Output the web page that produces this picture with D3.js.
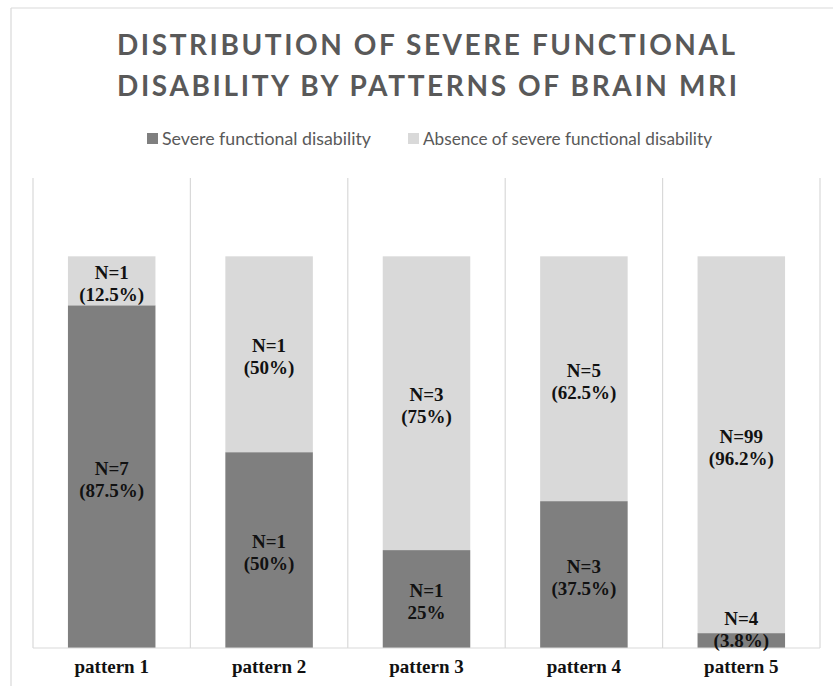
<!DOCTYPE html>
<html>
<head>
<meta charset="utf-8">
<script src="https://cdn.jsdelivr.net/npm/d3@7"></script>
<style>
  html, body { margin: 0; padding: 0; background: #fff; }
  svg { display: block; }
</style>
</head>
<body>
<svg id="chart" width="833" height="686"></svg>
<script>
// Patterns of brain MRI and outcome shares (%)
const categories = ["pattern 1", "pattern 2", "pattern 3", "pattern 4", "pattern 5"];
const severePct = [87.5, 50, 25, 37.5, 3.8];
const absentPct = [12.5, 50, 75, 62.5, 96.2];
const severeN = [7, 1, 1, 3, 4];
const absentN = [1, 1, 3, 5, 99];
// Percent label text per bar, as printed
const severePctText = ["(87.5%)", "(50%)", "25%", "(37.5%)", "(3.8%)"];
const absentPctText = ["(12.5%)", "(50%)", "(75%)", "(62.5%)", "(96.2%)"];
const seriesNames = ["Severe functional disability", "Absence of severe functional disability"];
const titleLines = ["DISTRIBUTION OF SEVERE FUNCTIONAL", "DISABILITY BY PATTERNS OF BRAIN MRI"];

const colors = { severe: "#7f7f7f", absent: "#d9d9d9", grid: "#d9d9d9", text: "#595959" };

const svg = d3.select("#chart");
const plot = { left: 33, right: 820, top: 178, bottom: 648 };

// Chart frame
svg.append("line").attr("x1", 11).attr("x2", 11).attr("y1", 8).attr("y2", 686)
  .attr("stroke", colors.grid).attr("stroke-width", 1.2);
svg.append("line").attr("x1", 11).attr("x2", 833).attr("y1", 8).attr("y2", 8)
  .attr("stroke", colors.grid).attr("stroke-width", 1.2);

// Title
const title = svg.append("g").attr("fill", colors.text)
  .style("font-family", "Lato, sans-serif").style("font-weight", 700).style("font-size", "28px");
title.selectAll("text").data(titleLines).join("text")
  .attr("x", 117).attr("y", (d, i) => 55 + i * 41)
  .attr("textLength", (d, i) => i === 0 ? 618 : 620)
  .attr("lengthAdjust", "spacing")
  .text(d => d);

// Legend
const legendItems = [
  { name: seriesNames[0], color: colors.severe, sx: 147, tx: 162, tw: 209 },
  { name: seriesNames[1], color: colors.absent, sx: 408, tx: 423, tw: 289 }
];
const legend = svg.append("g");
legend.selectAll("rect").data(legendItems).join("rect")
  .attr("x", d => d.sx).attr("y", 133).attr("width", 11).attr("height", 11).attr("fill", d => d.color);
legend.selectAll("text").data(legendItems).join("text")
  .attr("x", d => d.tx).attr("y", 145)
  .attr("textLength", d => d.tw).attr("lengthAdjust", "spacingAndGlyphs")
  .attr("fill", colors.text)
  .style("font-family", "Lato, sans-serif").style("font-size", "18px")
  .text(d => d.name);

// Scales
const x = d3.scaleBand().domain(categories).range([plot.left, plot.right])
  .paddingInner(0.444).paddingOuter(0.222);
const y = d3.scaleLinear().domain([0, 120]).range([plot.bottom, plot.top]);

// Vertical category separators
const step = x.step();
const bounds = d3.range(categories.length + 1).map(i => plot.left + i * step);
svg.append("g").selectAll("line").data(bounds).join("line")
  .attr("x1", d => d).attr("x2", d => d)
  .attr("y1", plot.top).attr("y2", plot.bottom)
  .attr("stroke", colors.grid).attr("stroke-width", 1.2);

// Stacked bars
const rows = categories.map((c, i) => ({
  cat: c, severe: severePct[i], absent: absentPct[i],
  labels: {
    severe: ["N=" + severeN[i], severePctText[i]],
    absent: ["N=" + absentN[i], absentPctText[i]]
  }
}));
const stack = d3.stack().keys(["severe", "absent"]);
const layers = stack(rows);

const barG = svg.append("g");
layers.forEach(layer => {
  barG.append("g").attr("fill", colors[layer.key])
    .selectAll("rect").data(layer).join("rect")
    .attr("x", d => x(d.data.cat))
    .attr("width", x.bandwidth())
    .attr("y", d => y(d[1]))
    .attr("height", d => y(d[0]) - y(d[1]));
});

// Baseline
svg.append("line").attr("x1", plot.left).attr("x2", plot.right)
  .attr("y1", plot.bottom).attr("y2", plot.bottom)
  .attr("stroke", colors.grid).attr("stroke-width", 1.2);

// Data labels, two lines centred in each segment
const labelG = svg.append("g").attr("fill", "#111")
  .style("font-family", "'Liberation Serif', 'Times New Roman', serif")
  .style("font-weight", 700).style("font-size", "19px")
  .attr("text-anchor", "middle");
layers.forEach(layer => {
  layer.forEach(d => {
    const cx = x(d.data.cat) + x.bandwidth() / 2;
    const cy = Math.min((y(d[0]) + y(d[1])) / 2 + 3, 630);
    const lines = d.data.labels[layer.key];
    labelG.selectAll(null).data(lines).enter().append("text")
      .attr("x", cx).attr("y", (t, j) => cy - 5 + j * 22)
      .text(t => t);
  });
});

// Category axis
const axis = d3.axisBottom(x).tickSize(0).tickPadding(0);
const axG = svg.append("g").attr("transform", `translate(0,${plot.bottom})`).call(axis);
axG.select(".domain").remove();
axG.selectAll("text")
  .attr("y", 25).attr("dy", null)
  .attr("fill", "#111")
  .style("font-family", "'Liberation Serif', 'Times New Roman', serif")
  .style("font-weight", 700).style("font-size", "19px");
</script>
</body>
</html>
